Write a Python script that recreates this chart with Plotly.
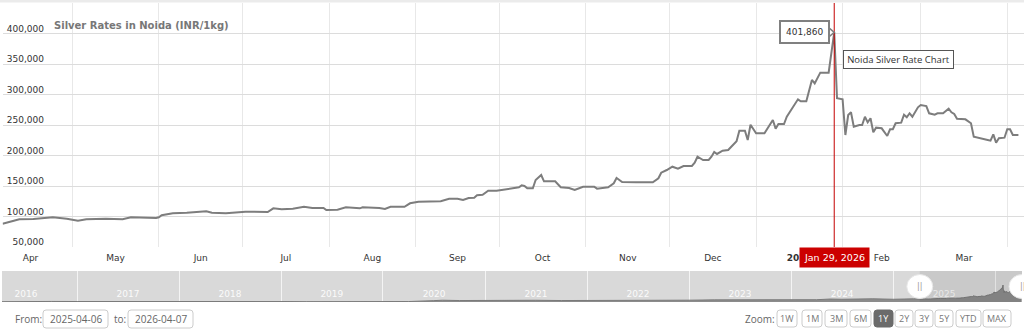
import plotly.graph_objects as go
import pandas as pd

# ---------------- data ----------------
dates = [
    "2025-04-06", "2025-04-10", "2025-04-12", "2025-04-17", "2025-04-23", "2025-04-24", "2025-04-29",
    "2025-05-03", "2025-05-06", "2025-05-13", "2025-05-19", "2025-05-22", "2025-05-31",
    "2025-06-01", "2025-06-02", "2025-06-06", "2025-06-11", "2025-06-18", "2025-06-20", "2025-06-25",
    "2025-07-02", "2025-07-10", "2025-07-12", "2025-07-15", "2025-07-19", "2025-07-23", "2025-07-26",
    "2025-07-30", "2025-07-31", "2025-08-04", "2025-08-07", "2025-08-12", "2025-08-13", "2025-08-19",
    "2025-08-21", "2025-08-23", "2025-08-28", "2025-08-30", "2025-09-02", "2025-09-06", "2025-09-10",
    "2025-09-13", "2025-09-16", "2025-09-18", "2025-09-20", "2025-09-22", "2025-09-23", "2025-09-25",
    "2025-09-27", "2025-09-30", "2025-10-04", "2025-10-06", "2025-10-08", "2025-10-09", "2025-10-10",
    "2025-10-11", "2025-10-13", "2025-10-14", "2025-10-16", "2025-10-17", "2025-10-21", "2025-10-23",
    "2025-10-24", "2025-10-26", "2025-10-28", "2025-10-31", "2025-11-04", "2025-11-05", "2025-11-09",
    "2025-11-11", "2025-11-12", "2025-11-14", "2025-11-19", "2025-11-25", "2025-11-27", "2025-11-28",
    "2025-11-30", "2025-12-02", "2025-12-04", "2025-12-06", "2025-12-09", "2025-12-10", "2025-12-11",
    "2025-12-13", "2025-12-15", "2025-12-16", "2025-12-17", "2025-12-18", "2025-12-20", "2025-12-22",
    "2025-12-25", "2025-12-26", "2025-12-28", "2025-12-29", "2025-12-30", "2026-01-01", "2026-01-04",
    "2026-01-07", "2026-01-08", "2026-01-09", "2026-01-11", "2026-01-12", "2026-01-16", "2026-01-17",
    "2026-01-19", "2026-01-21", "2026-01-22", "2026-01-24", "2026-01-27", "2026-01-28", "2026-01-29",
    "2026-01-30", "2026-02-01", "2026-02-02", "2026-02-03", "2026-02-04", "2026-02-05", "2026-02-07",
    "2026-02-08", "2026-02-09", "2026-02-10", "2026-02-11", "2026-02-12", "2026-02-13", "2026-02-15",
    "2026-02-17", "2026-02-18", "2026-02-19", "2026-02-20", "2026-02-22", "2026-02-23", "2026-02-24",
    "2026-02-25", "2026-02-26", "2026-02-28", "2026-03-01", "2026-03-03", "2026-03-04", "2026-03-06",
    "2026-03-07", "2026-03-09", "2026-03-11", "2026-03-12", "2026-03-13", "2026-03-14", "2026-03-17",
    "2026-03-19", "2026-03-20", "2026-03-22", "2026-03-25", "2026-03-26", "2026-03-27", "2026-03-28",
    "2026-03-29", "2026-03-31", "2026-04-01", "2026-04-02", "2026-04-03", "2026-04-05",
]
values = [
    88000, 93000, 95400, 96000, 97500, 98700, 96400,
    93100, 95400, 96400, 95400, 98700, 97500,
    98700, 102000, 105200, 106200, 108500, 106200, 105200,
    107900, 107400, 113400, 111800, 112800, 116000, 113900,
    113900, 110600, 111000, 115000, 113400, 115000, 113900,
    112300, 116000, 116000, 121600, 124300, 124300, 124900,
    129200, 129200, 127000, 130300, 130800, 134700, 135700,
    142300, 142300, 145100, 145600, 147900, 151100, 150000,
    146200, 146200, 159800, 168000, 157700, 157700, 147900,
    147900, 146700, 143400, 148800, 148800, 145600, 147900,
    154400, 163100, 156600, 156100, 156100, 162600, 171800,
    176200, 181600, 178300, 182800, 182800, 188200, 198000,
    192600, 192600, 198000, 205700, 202500, 207900, 209000,
    223300, 240700, 240700, 225400, 250500, 236400, 236400,
    258200, 244000, 251600, 251600, 263600, 292100, 288800,
    288800, 323800, 318300, 335800, 335800, 367500, 401860,
    293800, 292100, 233600, 266400, 270800, 247200, 250000,
    250000, 263600, 254400, 261000, 238000, 245600, 244600,
    232000, 243000, 243000, 252800, 253800, 266900, 262600,
    269200, 263600, 279000, 282800, 281100, 269200, 266900,
    269200, 269200, 276700, 270800, 268000, 260300, 259300,
    252800, 230800, 228200, 225400, 224300, 234700, 221000,
    228200, 229200, 243000, 243000, 233600, 233600,
]

# longer history shown only in the navigator strip
hist_dates = [
    "2016-04-07", "2016-07-01", "2016-10-01", "2017-01-01", "2017-04-01", "2017-07-01", "2017-10-01",
    "2018-01-01", "2018-04-01", "2018-07-01", "2018-10-01", "2019-01-01", "2019-04-01", "2019-07-01",
    "2019-09-01", "2019-10-01", "2020-01-01", "2020-04-01", "2020-07-01", "2020-08-01", "2020-10-01",
    "2021-01-01", "2021-04-01", "2021-07-01", "2021-10-01", "2022-01-01", "2022-04-01", "2022-07-01",
    "2022-10-01", "2023-01-01", "2023-04-01", "2023-07-01", "2023-10-01", "2024-01-01", "2024-04-01",
    "2024-05-20", "2024-07-01", "2024-10-20", "2025-01-01", "2025-03-15",
]
hist_values = [
    36500, 47000, 42000, 40500, 42000, 38500, 39500,
    39000, 39500, 38500, 37500, 40000, 37500, 39000,
    47000, 45000, 46500, 40000, 60000, 69000, 62000,
    68000, 67000, 68000, 62000, 63000, 65000, 56000,
    58000, 70000, 77000, 75000, 72000, 74000, 80000,
    95000, 90000, 100000, 90000, 99000,
]

month_labels = ["Apr", "May", "Jun", "Jul", "Aug", "Sep", "Oct", "Nov", "Dec", "<b>2026</b>", "Feb", "Mar"]
y_ticks = [50000, 100000, 150000, 200000, 250000, 300000, 350000, 400000]
nav_year_labels = ["2016", "2017", "2018", "2019", "2020", "2021", "2022", "2023", "2024", "2025"]
zoom_buttons = ["1W", "1M", "3M", "6M", "1Y", "2Y", "3Y", "5Y", "YTD", "MAX"]
selected_button = "1Y"
range_from = "2025-04-06"
range_to = "2026-04-07"
chart_title = "Silver Rates in Noida (INR/1kg)"
note_text = "Noida Silver Rate Chart"

# ---------------- layout helpers ----------------
W, H = 1024, 336


def px(x):
    return x / W


def py(y):
    return 1 - y / H


def rrect(x0, y0, x1, y1, r=3):
    rx, ry = r / W, r / H
    X0, X1 = px(x0), px(x1)
    Yb, Yt = py(y1), py(y0)
    return (f"M{X0+rx},{Yt} L{X1-rx},{Yt} Q{X1},{Yt} {X1},{Yt-ry} L{X1},{Yb+ry} "
            f"Q{X1},{Yb} {X1-rx},{Yb} L{X0+rx},{Yb} Q{X0},{Yb} {X0},{Yb+ry} "
            f"L{X0},{Yt-ry} Q{X0},{Yt} {X0+rx},{Yt} Z")


month_edges = pd.date_range("2025-04-01", "2026-04-01", freq="MS")
month_mid = [(a + (b - a) / 2).strftime("%Y-%m-%d %H:%M") for a, b in zip(month_edges[:-1], month_edges[1:])]
month_grid = [d.strftime("%Y-%m-%d") for d in month_edges[1:]]

nav_start = hist_dates[0]
nav_end = range_to
year_edges = pd.date_range("2016-01-01", "2026-01-01", freq="YS")
year_mid = [(a + (b - a) / 2).strftime("%Y-%m-%d") for a, b in zip(year_edges[:-1], year_edges[1:])]
year_grid = [d.strftime("%Y-%m-%d") for d in year_edges[1:]]

peak_i = values.index(max(values))
peak_date = dates[peak_i]
peak_val = values[peak_i]

fig = go.Figure()
fig.add_trace(go.Scatter(
    x=dates, y=values, mode="lines", line=dict(color="#7d7d7d", width=2),
    xaxis="x", yaxis="y", hoverinfo="skip", showlegend=False))
fig.add_trace(go.Scatter(
    x=hist_dates + dates, y=hist_values + values, mode="lines", fill="tozeroy",
    fillcolor="#8c8c8c", line=dict(color="#7a7a7a", width=1),
    xaxis="x2", yaxis="y2", hoverinfo="skip", showlegend=False))

axis_font = dict(family="DejaVu Sans", size=9, color="#333333")

fig.update_layout(
    width=W, height=H,
    margin=dict(l=0, r=0, t=0, b=0),
    paper_bgcolor="white", plot_bgcolor="white",
    showlegend=False,
    xaxis=dict(
        domain=[px(2.6), 1], anchor="y", type="date", range=[range_from, range_to],
        tickmode="array", tickvals=month_mid, ticktext=month_labels, ticks="",
        showgrid=False, zeroline=False, showline=False, tickfont=axis_font,
        ticklabelstandoff=4, ticklabeloverflow="allow",
        minor=dict(tickmode="array", tickvals=month_grid, showgrid=True,
                   gridcolor="#e8e8e8", gridwidth=1, ticks=""),
    ),
    yaxis=dict(
        domain=[py(247), py(3)], anchor="free", position=px(44), side="left",
        range=[50000, 450000],
        tickmode="array", tickvals=y_ticks, ticktext=[f"{v:,}" for v in y_ticks],
        ticklabelposition="outside", ticklabelstandoff=0, ticklabelshift=-5,
        ticklabeloverflow="allow",
        tickfont=axis_font, gridcolor="#dcdcdc", gridwidth=1, zeroline=False, showline=False,
        ticks="",
        minor=dict(tickmode="array", tickvals=[450000], showgrid=True, gridcolor="#dcdcdc", ticks=""),
    ),
    xaxis2=dict(
        domain=[px(2), px(1022)], anchor="y2", type="date", range=[nav_start, nav_end],
        tickmode="array", tickvals=year_mid, ticktext=nav_year_labels, ticks="",
        ticklabelposition="inside", showgrid=False, zeroline=False, showline=False,
        tickfont=dict(family="DejaVu Sans", size=9, color="rgba(255,255,255,0.9)"),
        minor=dict(tickmode="array", tickvals=year_grid, showgrid=True, gridcolor="#f4f4f4", ticks=""),
    ),
    yaxis2=dict(domain=[py(302), py(271)], anchor="x2", range=[30000, 710000], visible=False),
)

shapes = []
# top strip
shapes.append(dict(type="rect", xref="paper", yref="paper", x0=0, x1=1, y0=py(2.5), y1=1,
                   fillcolor="#ebebeb", line=dict(width=0), layer="below"))
# navigator background + selection mask
shapes.append(dict(type="rect", xref="x2 domain", yref="y2 domain", x0=0, x1=1, y0=0, y1=1,
                   fillcolor="#d9d9d9", line=dict(width=0), layer="below"))
shapes.append(dict(type="rect", xref="x2", yref="y2 domain", x0=range_from, x1=range_to, y0=0, y1=1,
                   fillcolor="rgba(0,0,0,0.07)", line=dict(width=0), layer="above"))
for hx in [range_from, range_to]:
    shapes.append(dict(type="circle", xref="x2", yref="y2 domain", xsizemode="pixel", ysizemode="pixel",
                       xanchor=hx, yanchor=0.5, x0=-13, x1=13, y0=-12, y1=12,
                       fillcolor="white", line=dict(color="#e6e6e6", width=1), layer="above"))
# crosshair
shapes.append(dict(type="line", xref="x", yref="y domain", x0=peak_date, x1=peak_date, y0=0, y1=1,
                   line=dict(color="#c40000", width=1), layer="above"))
# callout pointer of the peak tooltip
shapes.append(dict(type="path", xref="x", yref="y", xsizemode="pixel", ysizemode="pixel",
                   xanchor=peak_date, yanchor=peak_val, path="M-7,-6 L0,0 L-7,6 Z",
                   fillcolor="white", line=dict(color="#808080", width=1.5), layer="above"))
fig.update_layout(shapes=shapes)

# title
fig.add_annotation(xref="paper", yref="paper", x=px(52), y=py(26), xanchor="left", yanchor="middle",
                   text=chart_title, showarrow=False,
                   font=dict(family="DejaVu Sans", size=10, color="#777777", weight="bold"))
# tooltip box at the peak
fig.add_annotation(xref="x", yref="y", x=peak_date, y=peak_val, xanchor="right", yanchor="middle",
                   xshift=-4, text=f"{peak_val:,}", showarrow=False, bgcolor="white",
                   bordercolor="#808080", borderwidth=2, borderpad=5,
                   font=dict(family="DejaVu Sans", size=9, color="#333333"))
# note box
fig.add_annotation(xref="x", yref="paper", x=peak_date, y=py(59.5), xanchor="left", yanchor="middle",
                   xshift=9, text=note_text, showarrow=False, bgcolor="white", width=105,
                   bordercolor="#555555", borderwidth=1, borderpad=2,
                   font=dict(family="Open Sans", size=9.5, color="#333333"))
# crosshair date label
fig.add_annotation(xref="x", yref="y domain", x=peak_date, y=0, xanchor="center", yanchor="top",
                   text=pd.Timestamp(peak_date).strftime("%b %d, %Y"), showarrow=False,
                   bgcolor="#cc0000", borderpad=4,
                   font=dict(family="DejaVu Sans", size=9.5, color="white"))
# navigator handle grips
for hx in [range_from, range_to]:
    fig.add_annotation(xref="x2", yref="y2 domain", x=hx, y=0.5, yanchor="middle", text="||",
                       showarrow=False, font=dict(family="DejaVu Sans", size=8, color="#999999"))

# bottom controls
ctl_font = dict(family="Open Sans", size=10, color="#666666")
fig.add_annotation(xref="paper", yref="paper", x=px(13), y=py(319), xanchor="left", yanchor="middle",
                   text="From:", showarrow=False, font=ctl_font)
fig.add_annotation(xref="paper", yref="paper", x=px(112), y=py(319), xanchor="left", yanchor="middle",
                   text="to:", showarrow=False, font=ctl_font)
for (bx0, bx1), txt in [((43, 108), range_from), ((128, 193), range_to)]:
    fig.add_shape(type="path", xref="paper", yref="paper", path=rrect(bx0, 310, bx1, 328, 3),
                  fillcolor="white", line=dict(color="#cccccc", width=1))
    fig.add_annotation(xref="paper", yref="paper", x=px((bx0 + bx1) / 2), y=py(319),
                       xanchor="center", yanchor="middle", text=txt,
                       showarrow=False, font=ctl_font)
fig.add_annotation(xref="paper", yref="paper", x=px(743), y=py(319), xanchor="left", yanchor="middle",
                   text="Zoom:", showarrow=False, font=ctl_font)
btn_spans = [(777, 797), (802, 822), (825, 847), (850, 871), (874, 893), (895, 913), (915, 933),
             (935, 953), (956, 981), (983, 1011)]
for (bx0, bx1), lab in zip(btn_spans, zoom_buttons):
    sel = lab == selected_button
    fig.add_shape(type="path", xref="paper", yref="paper", path=rrect(bx0, 310, bx1, 327, 3),
                  fillcolor="#6b6b6b" if sel else "white",
                  line=dict(color="#6b6b6b" if sel else "#cccccc", width=1))
    fig.add_annotation(xref="paper", yref="paper", x=px((bx0 + bx1) / 2), y=py(318.5),
                       xanchor="center", yanchor="middle", text=lab, showarrow=False,
                       font=dict(family="Open Sans", size=9, color="white" if sel else "#777777"))

fig.write_html("out.html")
